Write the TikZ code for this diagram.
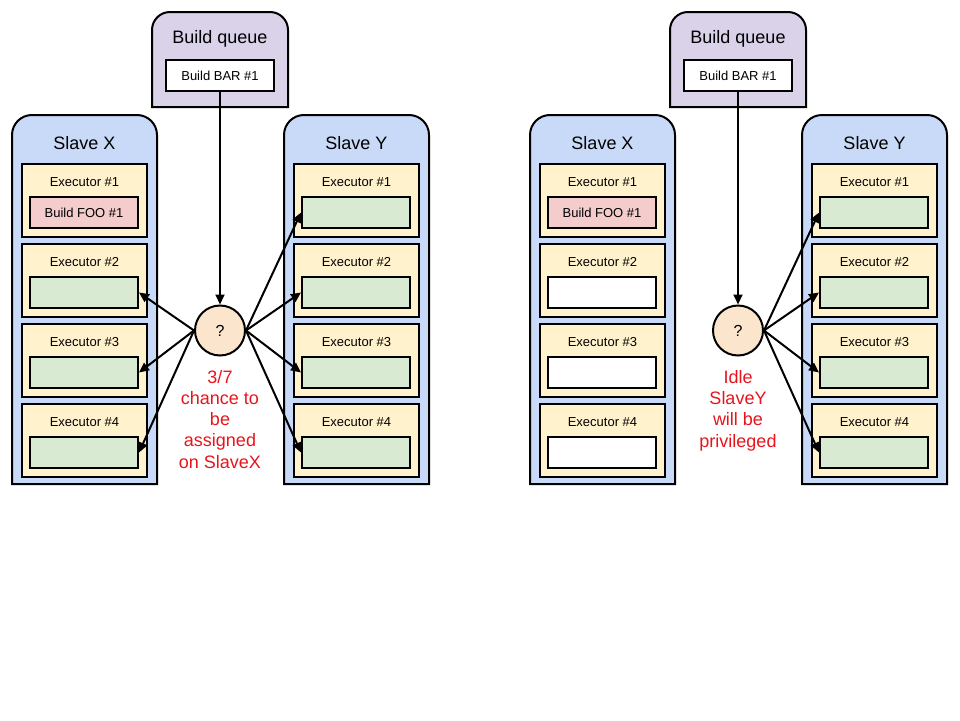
\documentclass[tikz,border=0pt]{standalone}
\usepackage{fontspec}
\setmainfont{Liberation Sans}
\usetikzlibrary{arrows.meta}
\definecolor{queuefill}{HTML}{D9D2E9}
\definecolor{slavefill}{HTML}{C9DAF8}
\definecolor{execfill}{HTML}{FFF2CC}
\definecolor{busyfill}{HTML}{F4CCCC}
\definecolor{freefill}{HTML}{D9EAD3}
\definecolor{pickfill}{HTML}{FCE5CD}
\definecolor{notered}{HTML}{E8141C}
\tikzset{
  outline/.style={draw=black, line width=2pt},
  title/.style={font=\fontsize{18}{21}\selectfont, inner sep=0pt},
  execbox/.style={outline, fill=execfill, minimum width=125pt, minimum height=73pt, inner sep=0pt},
  execlabel/.style={font=\fontsize{13}{15}\selectfont, inner sep=0pt},
  slotbox/.style={outline, minimum width=108pt, minimum height=31pt, inner sep=0pt, font=\fontsize{13}{15}\selectfont},
  picker/.style={circle, outline, fill=pickfill, minimum size=50pt, inner sep=0pt, font=\fontsize{16}{18}\selectfont},
  link/.style={line width=2pt, -{Triangle[length=10pt,width=9pt]}},
  note/.style={text=notered, align=center, inner sep=0pt, font=\fontsize{18}{21.25}\selectfont}
}
\begin{document}
\begin{tikzpicture}[x=1pt,y=-1pt]
\useasboundingbox (0,0) rectangle (960,720);
\foreach \p/\dx/\idle in {L/0/freefill,R/518/white}{
  \begin{scope}[xshift=\dx pt]
    % build queue with the pending build
    \draw[outline, fill=queuefill] (152,107) [rounded corners=18pt] -- (152,12) -- (288,12) [sharp corners] -- (288,107) -- cycle;
    \node[title, anchor=base] (\p queue) at (220,43) {Build queue};
    \node[slotbox, fill=white] (\p bar) at (220,75.5) {Build BAR \#1};
    % the two slaves
    \draw[outline, fill=slavefill] (12,484) [rounded corners=20pt] -- (12,115) -- (157,115) [sharp corners] -- (157,484) -- cycle;
    \draw[outline, fill=slavefill] (284,484) [rounded corners=20pt] -- (284,115) -- (429,115) [sharp corners] -- (429,484) -- cycle;
    \node[title, anchor=base] (\p Xname) at (84.5,149) {Slave X};
    \node[title, anchor=base] (\p Yname) at (356.5,149) {Slave Y};
    \foreach \k in {1,...,4}{
      \pgfmathsetmacro\etop{164+80*(\k-1)}
      % executors of slave X
      \node[execbox] (\p Xexec\k) at (84.5,\etop+36.5) {};
      \node[execlabel, anchor=base] (\p Xlab\k) at (84.5,\etop+22.5) {Executor \#\k};
      \ifnum\k=1
        \node[slotbox, fill=busyfill] (\p Xslot\k) at (84,\etop+48.5) {Build FOO \#1};
      \else
        \node[slotbox, fill=\idle] (\p Xslot\k) at (84,\etop+48.5) {};
      \fi
      % executors of slave Y
      \node[execbox] (\p Yexec\k) at (356.5,\etop+36.5) {};
      \node[execlabel, anchor=base] (\p Ylab\k) at (356.5,\etop+22.5) {Executor \#\k};
      \node[slotbox, fill=freefill] (\p Yslot\k) at (356,\etop+48.5) {};
    }
    % scheduler choice
    \node[picker] (\p pick) at (220,330.5) {?};
    \draw[link] (\p bar) -- (\p pick);
    \foreach \k in {1,...,4}
      \draw[link] (\p pick.east) -- (\p Yslot\k.west);
  \end{scope}
}
\foreach \k in {2,3,4}
  \draw[link] (Lpick.west) -- (LXslot\k.east);
% the note's base is the baseline of its last line
\node[note, anchor=base] (Lnote) at (220,468) {3/7\\chance to\\be\\assigned\\on SlaveX};
\node[note, anchor=base] (Rnote) at (738,447) {Idle\\SlaveY\\will be\\privileged};
\end{tikzpicture}
\end{document}
